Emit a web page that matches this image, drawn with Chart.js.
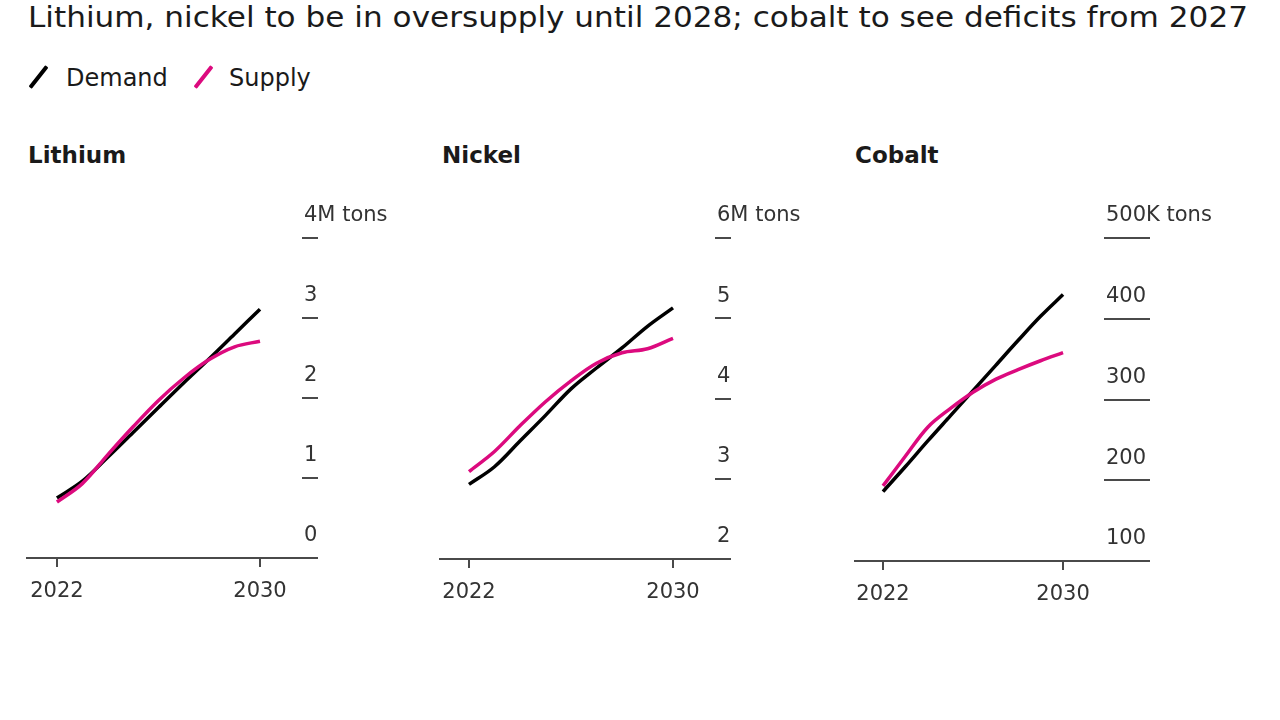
<!DOCTYPE html>
<html>
<head>
<meta charset="utf-8">
<script src="https://cdn.jsdelivr.net/npm/chart.js@4.4.1/dist/chart.umd.min.js"></script>
<style>
  html, body { margin: 0; padding: 0; background: #fff; }
  body { width: 1280px; height: 720px; position: relative; overflow: hidden; font-family: "DejaVu Sans", sans-serif; color: #1a1a1a; }
  .title { position: absolute; left: 28px; top: 4px; font-size: 28px; line-height: 28px; white-space: nowrap; transform-origin: 0 50%; }
  .legend { position: absolute; top: 66px; font-size: 24px; line-height: 24px; white-space: nowrap; }
  .sw { position: absolute; width: 27px; height: 4px; border-radius: 1px; transform: rotate(-52deg); }
  .ptitle { position: absolute; top: 143px; font-size: 23px; line-height: 25px; font-weight: bold; }
  canvas { position: absolute; }
</style>
</head>
<body>
<div class="title" id="title">Lithium, nickel to be in oversupply until 2028; cobalt to see deficits from 2027</div>
<div class="sw" style="left:25px; top:75px; background:#000;"></div>
<div class="legend" style="left:66px;">Demand</div>
<div class="sw" style="left:190px; top:75px; background:#dc0a7e;"></div>
<div class="legend" style="left:229px;">Supply</div>
<div class="ptitle" style="left:28px;">Lithium</div>
<div class="ptitle" style="left:442px;">Nickel</div>
<div class="ptitle" style="left:855px;">Cobalt</div>

<canvas id="c1" width="420" height="440" style="left:0px; top:180px;"></canvas>
<canvas id="c2" width="420" height="440" style="left:410px; top:180px;"></canvas>
<canvas id="c3" width="450" height="440" style="left:830px; top:180px;"></canvas>

<script>
// ---- data ----
const years = [2022, 2023, 2024, 2025, 2026, 2027, 2028, 2029, 2030];
const xTickYears = [2022, 2030];

const lithiumDemand = [0.75, 0.96, 1.26, 1.57, 1.88, 2.19, 2.49, 2.80, 3.11];
const lithiumSupply = [0.70, 0.93, 1.29, 1.64, 1.97, 2.25, 2.48, 2.64, 2.71];
const lithiumTicks = [0, 1, 2, 3, 4];
const lithiumUnit = "4M tons";

const nickelDemand = [2.93, 3.15, 3.47, 3.79, 4.12, 4.38, 4.63, 4.90, 5.13];
const nickelSupply = [3.09, 3.34, 3.66, 3.96, 4.22, 4.44, 4.57, 4.62, 4.75];
const nickelTicks = [2, 3, 4, 5, 6];
const nickelUnit = "6M tons";

const cobaltDemand = [186, 217, 249, 280, 311, 342, 373, 403, 430];
const cobaltSupply = [193, 230, 266, 289, 309, 325, 337, 348, 358];
const cobaltTicks = [100, 200, 300, 400, 500];
const cobaltUnit = "500K tons";

const seriesNames = ["Demand", "Supply"];
const seriesColors = ["#000000", "#dc0a7e"];

// fit the title to the reference width
(function () {
  const t = document.getElementById("title");
  const w = t.getBoundingClientRect().width;
  t.style.transform = "scaleX(" + (1220 / w) + ")";
})();

// ---- drawing ----
const FONT = { family: "DejaVu Sans", size: 21 };
const AXIS_COLOR = "#4a4a4a";

function makePanel(id, demand, supply, ticks, unit, geo) {
  const pts = arr => years.map((y, i) => ({ x: y, y: arr[i] }));
  new Chart(document.getElementById(id), {
    type: "line",
    data: {
      datasets: [
        { label: seriesNames[1], data: pts(supply), borderColor: seriesColors[1], borderWidth: 3.5, pointRadius: 0, tension: 0.35, fill: false },
        { label: seriesNames[0], data: pts(demand), borderColor: seriesColors[0], borderWidth: 3.5, pointRadius: 0, tension: 0.35, fill: false }
      ]
    },
    options: {
      responsive: false,
      animation: false,
      events: [],
      layout: { padding: { left: geo.padLeft, top: geo.padTop, right: 0, bottom: 0 } },
      plugins: { legend: { display: false }, tooltip: { enabled: false } },
      scales: {
        x: {
          type: "linear",
          position: "bottom",
          min: geo.xMin,
          max: geo.xMax,
          afterBuildTicks: s => { s.ticks = xTickYears.map(v => ({ value: v })); },
          afterFit: s => { s.height = geo.xAxisH; },
          border: { display: true, color: AXIS_COLOR, width: 2 },
          grid: { drawOnChartArea: false, drawTicks: true, tickLength: 9, color: AXIS_COLOR, lineWidth: 2 },
          ticks: { autoSkip: false, maxRotation: 0, padding: 12, color: "#333", font: FONT, callback: v => String(v) }
        },
        y: {
          type: "linear",
          position: "right",
          min: ticks[0],
          max: ticks[ticks.length - 1],
          afterBuildTicks: s => { s.ticks = ticks.map(v => ({ value: v })); },
          afterFit: s => { s.width = geo.yAxisW; },
          border: { display: false },
          grid: { drawOnChartArea: false, drawTicks: true, tickLength: geo.tickLen, color: AXIS_COLOR, lineWidth: 2 },
          ticks: {
            padding: -geo.tickLen + 2,
            labelOffset: -22,
            color: "#333",
            font: FONT,
            callback: v => (v === ticks[ticks.length - 1] ? unit : String(v))
          }
        }
      }
    }
  });
}

makePanel("c1", lithiumDemand, lithiumSupply, lithiumTicks, lithiumUnit,
  { padLeft: 27, padTop: 58, yAxisW: 118, xAxisH: 62, tickLen: 16, xMin: 2020.82, xMax: 2031.655 });
makePanel("c2", nickelDemand, nickelSupply, nickelTicks, nickelUnit,
  { padLeft: 30, padTop: 58, yAxisW: 115, xAxisH: 61, tickLen: 16, xMin: 2020.863, xMax: 2031.647 });
makePanel("c3", cobaltDemand, cobaltSupply, cobaltTicks, cobaltUnit,
  { padLeft: 25, padTop: 58, yAxisW: 176, xAxisH: 59, tickLen: 46, xMin: 2020.756, xMax: 2031.82 });
</script>
</body>
</html>
